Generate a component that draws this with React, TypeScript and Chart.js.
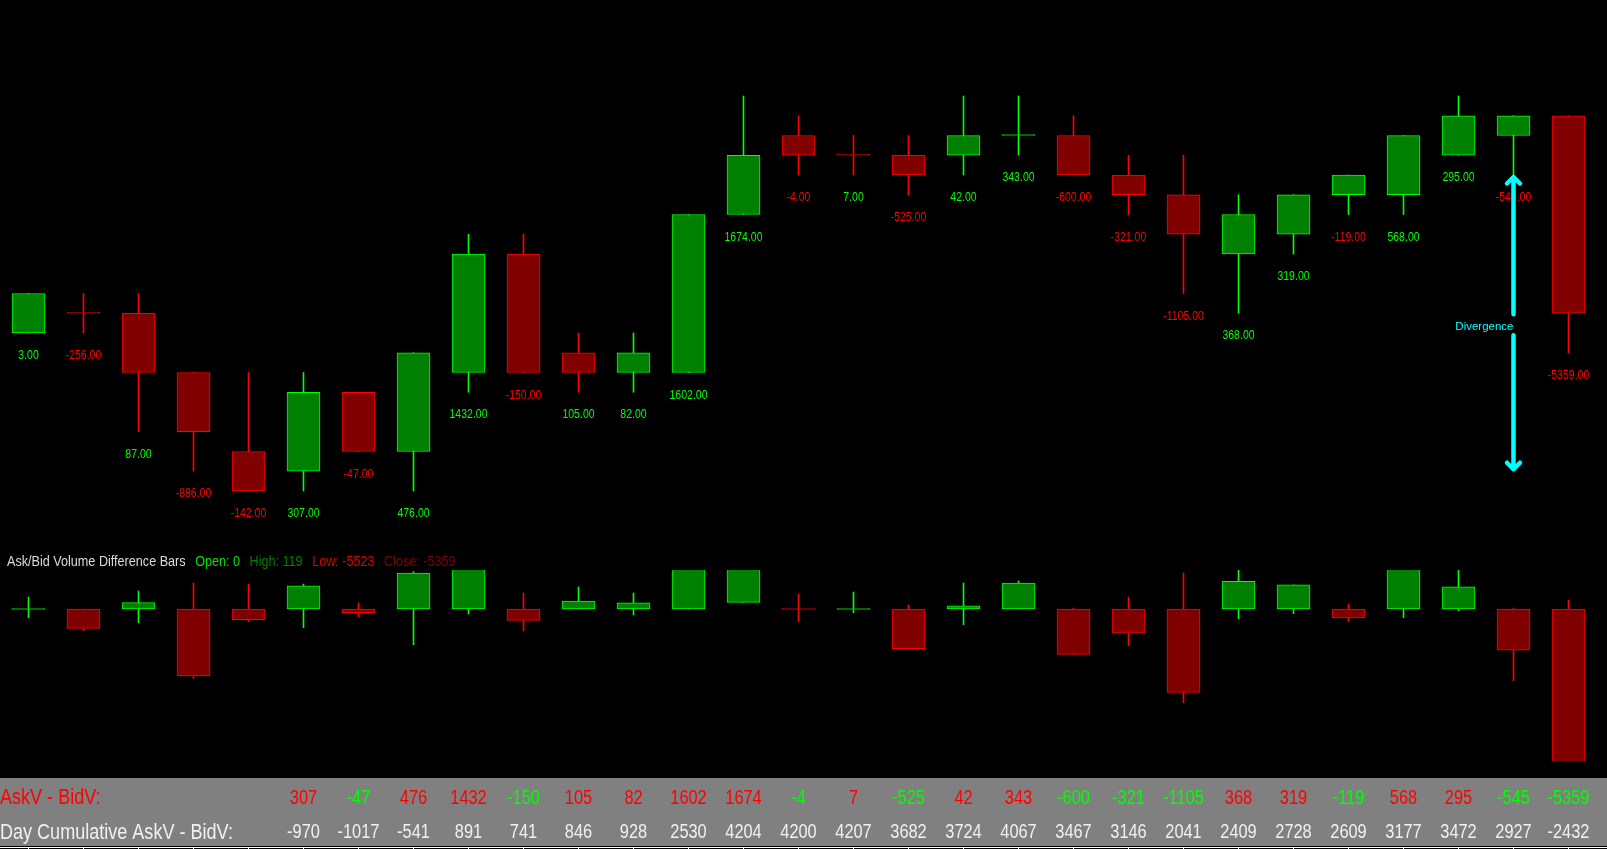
import React, { useEffect, useRef } from 'react';
import { Chart, registerables } from 'chart.js';

Chart.register(...registerables);

// ---------- data ----------
const barNumbers = ['1', '2', '3', '4', '5', '6', '7', '8', '9', '10', '11', '12', '13', '14', '15', '16', '17', '18', '19', '20', '21', '22', '23', '24', '25', '26', '27', '28', '29'];

const priceOpen = [4402.0, 4402.25, 4402.25, 4401.5, 4400.5, 4400.25, 4401.25, 4400.5, 4401.5, 4403.0, 4401.75, 4401.5, 4401.5, 4403.5, 4404.5, 4404.25, 4404.25, 4404.25, 4404.5, 4404.5, 4404.0, 4403.75, 4403.0, 4403.25, 4403.75, 4403.75, 4404.25, 4404.5, 4404.75];
const priceHigh = [4402.5, 4402.5, 4402.5, 4401.5, 4401.5, 4401.5, 4401.25, 4401.75, 4403.25, 4403.25, 4402.0, 4402.0, 4403.5, 4405.0, 4404.75, 4404.5, 4404.5, 4405.0, 4405.0, 4404.75, 4404.25, 4404.25, 4403.75, 4403.75, 4404.0, 4404.5, 4405.0, 4404.75, 4404.75];
const priceLow = [4402.0, 4402.0, 4400.75, 4400.25, 4400.0, 4400.0, 4400.5, 4400.0, 4401.25, 4401.5, 4401.25, 4401.25, 4401.5, 4403.5, 4404.0, 4404.0, 4403.75, 4404.0, 4404.25, 4404.0, 4403.5, 4402.5, 4402.25, 4403.0, 4403.5, 4403.5, 4404.25, 4404.0, 4401.75];
const priceClose = [4402.5, 4402.25, 4401.5, 4400.75, 4400.0, 4401.25, 4400.5, 4401.75, 4403.0, 4401.5, 4401.5, 4401.75, 4403.5, 4404.25, 4404.25, 4404.25, 4404.0, 4404.5, 4404.5, 4404.0, 4403.75, 4403.25, 4403.5, 4403.75, 4404.0, 4404.5, 4404.75, 4404.75, 4402.25];
// bars where open == close but drawn as an up (green) bar
const dojiUpBars = [18];

// Ask/Bid volume difference bars (close = AskV - BidV)
const askBidDelta = [3, -256, 87, -886, -142, 307, -47, 476, 1432, -150, 105, 82, 1602, 1674, -4, 7, -525, 42, 343, -600, -321, -1105, 368, 319, -119, 568, 295, -545, -5359];
const deltaOpen = [0, 0, 0, 0, 0, 0, 0, 0, 0, 0, 0, 0, 0, 88, 0, 0, 0, 0, 0, 0, 0, 0, 0, 0, 0, 0, 0, 0, 0];
const deltaHigh = [159, 0, 239, 345, 327, 331, 80, 495, 1480, 212, 292, 212, 1640, 1720, 199, 225, 53, 345, 371, 13, 159, 477, 540, 319, 66, 610, 530, 13, 119];
const deltaLow = [-115, -287, -181, -919, -168, -247, -102, -473, -66, -287, 0, -80, 0, 88, -168, -49, -525, -208, 0, -600, -486, -1242, -128, -62, -168, -115, -22, -950, -5523];

// table rows (first five columns are hidden behind the row titles)
const tableAskBid = [null, null, null, null, null, 307, -47, 476, 1432, -150, 105, 82, 1602, 1674, -4, 7, -525, 42, 343, -600, -321, -1105, 368, 319, -119, 568, 295, -545, -5359];
const tableCumulative = [null, null, null, null, null, -970, -1017, -541, 891, 741, 846, 928, 2530, 4204, 4200, 4207, 3682, 3724, 4067, 3467, 3146, 2041, 2409, 2728, 2609, 3177, 3472, 2927, -2432];

const divergence = { bar: 27, fromPrice: 4404.0, toPrice: 4400.25, text: 'Divergence' };

// ---------- styles ----------
const UP_LINE = '#00ff00';
const UP_FILL = '#008000';
const DN_LINE = '#ff0000';
const DN_FILL = '#800000';
const CYAN = '#00ffff';
const SANS = '"Liberation Sans", Arial, sans-serif';
const NARROW_SCALE = 0.82;

const W = 1607;
const TOP_H = 545;
const BOT_H = 304;

function isUp(open: number, close: number, i: number, dojiUp: number[]) {
  if (close > open) return true;
  if (close < open) return false;
  return dojiUp.includes(i);
}

// draws text with a horizontally condensed face (narrow-font look)
function narrowText(ctx: CanvasRenderingContext2D, text: string, x: number, y: number) {
  ctx.save();
  ctx.translate(x, y);
  ctx.scale(NARROW_SCALE, 1);
  ctx.fillText(text, 0, 0);
  ctx.restore();
}
function narrowWidth(ctx: CanvasRenderingContext2D, text: string) {
  return ctx.measureText(text).width * NARROW_SCALE;
}

const topPlugin = {
  id: 'candleText',
  afterDatasetsDraw(chart: any) {
    const { ctx } = chart;
    const x = chart.scales.x;
    const y = chart.scales.y;
    ctx.save();
    ctx.font = `12.8px ${SANS}`;
    ctx.textAlign = 'center';
    ctx.textBaseline = 'middle';
    askBidDelta.forEach((d, i) => {
      ctx.fillStyle = d >= 0 ? UP_LINE : DN_LINE;
      narrowText(ctx, d.toFixed(2), x.getPixelForValue(i), y.getPixelForValue(priceLow[i]) + 22.5);
    });

    // divergence arrow
    const xd = x.getPixelForValue(divergence.bar);
    const yTop = y.getPixelForValue(divergence.fromPrice) + 2;
    const yBot = y.getPixelForValue(divergence.toPrice) - 2;
    const mid = (yTop + yBot) / 2;
    ctx.strokeStyle = CYAN;
    ctx.lineWidth = 4.5;
    ctx.lineCap = 'round';
    ctx.lineJoin = 'round';
    ctx.beginPath();
    ctx.moveTo(xd, yTop);
    ctx.lineTo(xd, mid - 9);
    ctx.moveTo(xd, mid + 12);
    ctx.lineTo(xd, yBot);
    ctx.moveTo(xd - 6.5, yTop + 6.5);
    ctx.lineTo(xd, yTop);
    ctx.lineTo(xd + 6.5, yTop + 6.5);
    ctx.moveTo(xd - 6.5, yBot - 6.5);
    ctx.lineTo(xd, yBot);
    ctx.lineTo(xd + 6.5, yBot - 6.5);
    ctx.stroke();
    ctx.font = `11.5px ${SANS}`;
    ctx.textAlign = 'right';
    ctx.fillStyle = CYAN;
    ctx.fillText(divergence.text, xd, mid + 3.5);
    ctx.restore();
  },
};

const bottomPlugin = {
  id: 'volumePanel',
  afterDraw(chart: any) {
    const { ctx, chartArea } = chart;
    const x = chart.scales.x;
    const last = askBidDelta.length - 1;
    ctx.save();
    // header
    const parts = [
      { text: 'Ask/Bid Volume Difference Bars', color: '#dcdcdc' },
      { text: `Open: ${deltaOpen[last]}`, color: '#00e000' },
      { text: `High: ${deltaHigh[last]}`, color: '#008000' },
      { text: `Low: ${deltaLow[last]}`, color: '#e00000' },
      { text: `Close: ${askBidDelta[last]}`, color: '#800000' },
    ];
    ctx.font = `15.4px ${SANS}`;
    ctx.textAlign = 'left';
    ctx.textBaseline = 'middle';
    let hx = 7;
    const hy = chartArea.top - 8;
    parts.forEach((p) => {
      ctx.fillStyle = p.color;
      narrowText(ctx, p.text, hx, hy);
      hx += narrowWidth(ctx, p.text) + 9.5;
    });

    // table
    const top = chartArea.bottom + 17;
    ctx.fillStyle = '#808080';
    ctx.fillRect(0, top, chart.width, 68);
    const r1 = top + 20;
    const r2 = top + 54.5;
    ctx.font = `22px ${SANS}`;
    ctx.textAlign = 'left';
    ctx.fillStyle = DN_LINE;
    narrowText(ctx, 'AskV - BidV:', 0, r1);
    ctx.fillStyle = '#f0f0f0';
    narrowText(ctx, 'Day Cumulative AskV - BidV:', 0, r2);
    ctx.font = `20px ${SANS}`;
    ctx.textAlign = 'center';
    tableAskBid.forEach((v, i) => {
      if (v === null) return;
      const px = x.getPixelForValue(i);
      ctx.fillStyle = v >= 0 ? DN_LINE : UP_LINE;
      narrowText(ctx, String(v), px, r1);
      const c = tableCumulative[i];
      if (c !== null) {
        ctx.fillStyle = '#f0f0f0';
        narrowText(ctx, String(c), px, r2);
      }
    });

    // time axis line and ticks
    const ay = top + 69;
    ctx.fillStyle = '#ffffff';
    ctx.fillRect(0, ay, chart.width, 1);
    barNumbers.forEach((_, i) => {
      ctx.fillRect(Math.floor(x.getPixelForValue(i)), ay + 1, 1, 3);
    });
    ctx.restore();
  },
};

function candleDatasets(
  open: number[],
  high: number[],
  low: number[],
  close: number[],
  dojiUp: number[],
  clip: any
) {
  const up = open.map((o, i) => isUp(o, close[i], i, dojiUp));
  return [
    {
      label: 'wick',
      data: low.map((l, i) => [l, high[i]]),
      backgroundColor: up.map((u) => (u ? UP_LINE : DN_LINE)),
      borderWidth: 0,
      barThickness: 1,
      grouped: false,
      order: 2,
      clip,
    },
    {
      label: 'body',
      data: open.map((o, i) => [o, close[i]]),
      backgroundColor: up.map((u) => (u ? UP_FILL : DN_FILL)),
      borderColor: up.map((u) => (u ? UP_LINE : DN_LINE)),
      borderWidth: 1,
      borderSkipped: false,
      barThickness: 33,
      minBarLength: 1,
      grouped: false,
      order: 1,
      clip,
    },
  ];
}

export default function App() {
  const topRef = useRef<HTMLCanvasElement>(null);
  const botRef = useRef<HTMLCanvasElement>(null);

  useEffect(() => {
    document.body.style.margin = '0';
    document.body.style.background = '#000';
    const common = {
      animation: false as const,
      responsive: false,
      maintainAspectRatio: false,
      devicePixelRatio: 1,
      events: [] as any[],
      plugins: { legend: { display: false }, tooltip: { enabled: false }, title: { display: false } },
    };
    const topChart = new Chart(topRef.current as HTMLCanvasElement, {
      type: 'bar',
      data: {
        labels: barNumbers,
        datasets: candleDatasets(priceOpen, priceHigh, priceLow, priceClose, dojiUpBars, false) as any,
      },
      options: {
        ...common,
        layout: { padding: { left: 1, right: 11, top: 0, bottom: 0 } },
        scales: {
          x: { type: 'category', offset: true, display: false, grid: { display: false } },
          y: { type: 'linear', min: 4399.3165, max: 4406.2152, display: false, grid: { display: false } },
        },
      } as any,
      plugins: [topPlugin],
    });
    const botChart = new Chart(botRef.current as HTMLCanvasElement, {
      type: 'bar',
      data: {
        labels: barNumbers,
        datasets: candleDatasets(deltaOpen, deltaHigh, deltaLow, askBidDelta, [], 0) as any,
      },
      options: {
        ...common,
        layout: { padding: { left: 1, right: 11, top: 25, bottom: 88 } },
        scales: {
          x: { type: 'category', offset: true, display: false, grid: { display: false } },
          y: { type: 'linear', min: -2013, max: 517, display: false, grid: { display: false } },
        },
      } as any,
      plugins: [bottomPlugin],
    });
    return () => {
      topChart.destroy();
      botChart.destroy();
    };
  }, []);

  return (
    <div style={{ position: 'fixed', left: 0, top: 0, width: W, height: TOP_H + BOT_H, background: '#000', overflow: 'hidden' }}>
      <canvas ref={topRef} width={W} height={TOP_H} style={{ position: 'absolute', left: 0, top: 0 }} />
      <canvas ref={botRef} width={W} height={BOT_H} style={{ position: 'absolute', left: 0, top: TOP_H }} />
    </div>
  );
}
